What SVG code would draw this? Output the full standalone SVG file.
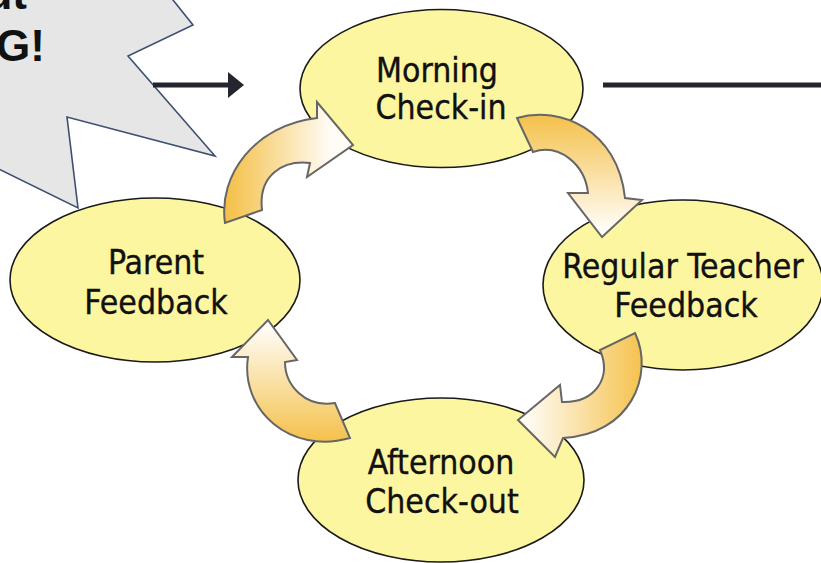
<svg xmlns="http://www.w3.org/2000/svg" width="821" height="563" viewBox="0 0 821 563">
  <style>
    .node ellipse { fill: #fdf6a0; stroke: #1a1a1a; stroke-width: 1.6; }
    .node text { font-family: "DejaVu Sans Condensed", "DejaVu Sans", sans-serif; font-stretch: condensed; font-size: 33.5px; fill: #111; stroke: #111; stroke-width: 0.35; text-anchor: middle; }
    .cycle { stroke: #666; stroke-width: 2; stroke-linejoin: miter; }
    .flow { stroke: #25252f; stroke-width: 5; fill: none; }
    .burst { fill: #e6e6e6; stroke: #3d5070; stroke-width: 1.6; }
    .burst-text { font-family: "Liberation Sans", Arial, sans-serif; font-weight: bold; font-size: 44px; fill: #111; text-anchor: end; }
  </style>
  <defs>
    <linearGradient id="gLR" gradientUnits="userSpaceOnUse" x1="225" y1="0" x2="330" y2="0">
      <stop offset="0" stop-color="#f4bf45"/>
      <stop offset="1" stop-color="#fffcf6"/>
    </linearGradient>
    <linearGradient id="gTB" gradientUnits="userSpaceOnUse" x1="0" y1="112" x2="0" y2="228">
      <stop offset="0" stop-color="#f4bf45"/>
      <stop offset="1" stop-color="#fffcf6"/>
    </linearGradient>
    <linearGradient id="gRL" gradientUnits="userSpaceOnUse" x1="648" y1="0" x2="525" y2="0">
      <stop offset="0" stop-color="#f4bf45"/>
      <stop offset="1" stop-color="#fffcf6"/>
    </linearGradient>
    <linearGradient id="gBT" gradientUnits="userSpaceOnUse" x1="0" y1="445" x2="0" y2="328">
      <stop offset="0" stop-color="#f4bf45"/>
      <stop offset="1" stop-color="#fffcf6"/>
    </linearGradient>
    <marker id="head" viewBox="0 0 16 26" refX="2" refY="13" markerUnits="userSpaceOnUse" markerWidth="16" markerHeight="26" orient="auto">
      <path d="M0,0 L16,13 L0,26 Z" fill="#25252f"/>
    </marker>
  </defs>

  <!-- callout burst, running off the top-left corner -->
  <g id="burst">
    <polygon class="burst" points="-30,-30 149,-30 193,25 128,56 215,156 67,117 78,208 -30,155"/>
    <text class="burst-text" x="27" y="9">ut</text>
    <text class="burst-text" x="45" y="61">G!</text>
  </g>

  <!-- nodes -->
  <g id="morning" class="node">
    <ellipse cx="441.5" cy="88.5" rx="141.5" ry="79"/>
    <text x="437" y="82">Morning</text>
    <text x="441" y="119">Check-in</text>
  </g>
  <g id="teacher" class="node">
    <ellipse cx="683" cy="285" rx="140" ry="85"/>
    <text x="683" y="278">Regular Teacher</text>
    <text x="686" y="317">Feedback</text>
  </g>
  <g id="afternoon" class="node">
    <ellipse cx="441" cy="480" rx="143" ry="82"/>
    <text x="441" y="474">Afternoon</text>
    <text x="442" y="513">Check-out</text>
  </g>
  <g id="parent" class="node">
    <ellipse cx="155" cy="280" rx="145" ry="82"/>
    <text x="156" y="274">Parent</text>
    <text x="156" y="314">Feedback</text>
  </g>

  <!-- connectors -->
  <g id="connectors">
    <line class="flow" x1="153" y1="85" x2="230" y2="85" marker-end="url(#head)"/>
    <line class="flow" x1="603" y1="85" x2="830" y2="85"/>
    <path id="to-morning" class="cycle" fill="url(#gLR)" d="M225,223 C218,175 255,125 317,118 L317,102 L353,145 L307,177 L310,163 C283,160 258,175 262,210 Z"/>
    <path id="to-teacher" class="cycle" fill="url(#gTB)" d="M517,118 C560,105 618,130 625,198 L642,200 L602,237 L568,193 L588,193 C585,165 560,143 533,152 Z"/>
    <path id="to-afternoon" class="cycle" fill="url(#gRL)" d="M635,333 C655,375 630,435 563,438 L555,457 L518,420 L560,385 L562,402 C595,403 612,378 600,350 Z"/>
    <path id="to-parent" class="cycle" fill="url(#gBT)" d="M350,438 C290,455 240,410 248,357 L232,357 L268,320 L297,360 L285,362 C285,385 305,408 335,403 Z"/>
  </g>
</svg>
